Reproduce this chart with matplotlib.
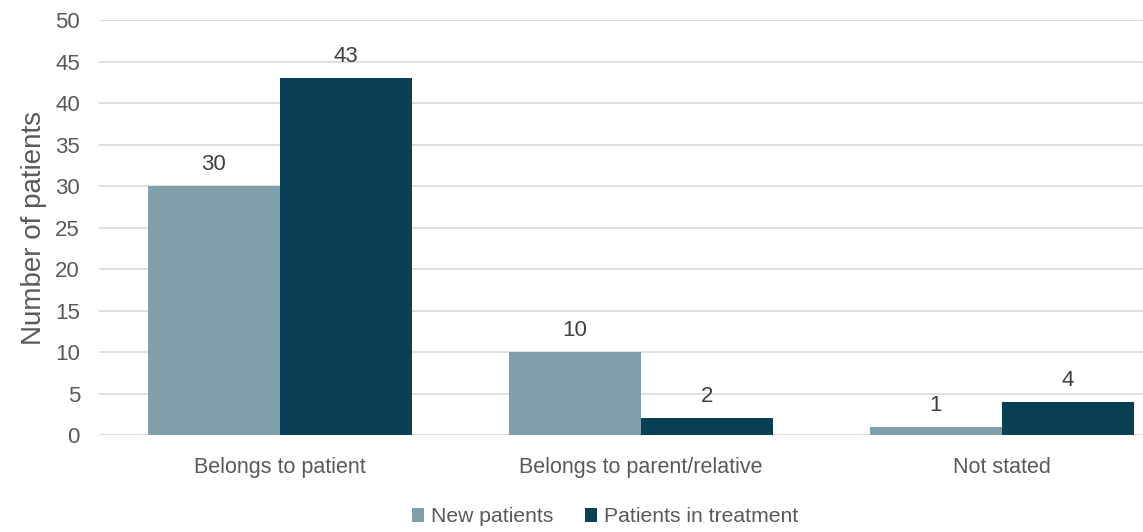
import matplotlib.pyplot as plt
import numpy as np

plt.rcParams['font.family'] = ['Liberation Sans', 'DejaVu Sans']

# ownership categories and patient counts
categories = ['Belongs to patient', 'Belongs to parent/relative', 'Not stated']
new_patients = [30, 10, 1]
in_treatment = [43, 2, 4]
series_names = ['New patients', 'Patients in treatment']

light = '#7f9faa'
dark = '#0a4055'
text_grey = '#595959'

fig = plt.figure(figsize=(11.43, 5.32), dpi=100)
ax = fig.add_axes([0.087, 0.1823, 0.9475, 0.780])

x = np.arange(len(categories))
bar_width = 0.366

b1 = ax.bar(x - bar_width/2, new_patients, width=bar_width, color=light, label=series_names[0], zorder=2)
b2 = ax.bar(x + bar_width/2, in_treatment, width=bar_width, color=dark, label=series_names[1], zorder=2)

# value labels above each bar
for bars in (b1, b2):
    for rect in bars:
        h = rect.get_height()
        ax.annotate(f'{h:g}', (rect.get_x() + rect.get_width()/2, h),
                    xytext=(0, 8), textcoords='offset points',
                    ha='center', va='bottom', fontsize=16, color='#404040')

ax.set_xlim(-0.5, 2.5)
ax.set_ylim(0, 50)
ax.set_yticks(range(0, 51, 5))
ax.yaxis.grid(True, color='#d9d9d9', linewidth=1.2, zorder=0)
ax.set_axisbelow(True)
for s in ax.spines.values():
    s.set_visible(False)
ax.tick_params(axis='y', length=0, labelsize=16, labelcolor=text_grey, pad=14)
ax.tick_params(axis='x', length=0, labelsize=15.5, labelcolor=text_grey, pad=16)
ax.set_xticks(x)
ax.set_xticklabels(categories)
ax.set_ylabel('Number of patients', fontsize=20, color=text_grey, labelpad=6)

fig.legend(handles=[b1, b2], loc='lower center', bbox_to_anchor=(0.529, -0.025), ncol=2,
           frameon=False, fontsize=15.2, labelcolor=text_grey,
           handlelength=0.6, handleheight=0.6, handletextpad=0.3, columnspacing=1.5)

fig.savefig('out.png', dpi=100)
